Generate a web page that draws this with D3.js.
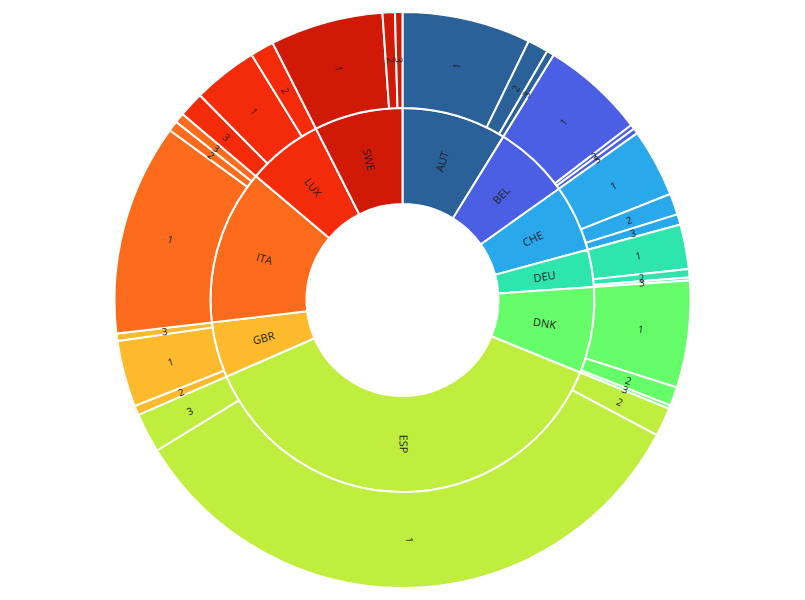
<!DOCTYPE html>
<html>
<head>
<meta charset="utf-8">
<script src="https://cdn.jsdelivr.net/npm/d3@7"></script>
<style>
html,body{margin:0;padding:0;background:#fff;}
svg{display:block;}
</style>
</head>
<body>
<svg id="chart" width="805" height="600"></svg>
<script>
// ---- data ----
const categories = ["AUT","BEL","CHE","DEU","DNK","ESP","GBR","ITA","LUX","SWE"];
const childLabels = [
  ["1","2","3"],
  ["1","2","3"],
  ["1","2","3"],
  ["1","2","3"],
  ["1","2","3"],
  ["2","1","3"],
  ["2","1","3"],
  ["1","2","3"],
  ["3","1","2"],
  ["1","2","3"]
];
const childValues = [
  [260,42,15],
  [209,9,11],
  [138,43,21],
  [90,17,6],
  [216,38,7],
  [58,1205,80],
  [19,134,15],
  [428,21,20],
  [51,131,48],
  [228,25,15]
];
const colors = ["#2A6199","#4A5FE3","#29A8EC","#2EE5AE","#66FD6A","#C0EE3E","#FDBA2D","#FC6B1B","#F42B0A","#D11907"];

// ---- build hierarchy ----
const tree = {
  name: "root",
  children: categories.map((c, i) => ({
    name: c,
    cat: i,
    children: childLabels[i].map((l, j) => ({name: l, cat: i, value: childValues[i][j]}))
  }))
};

const W = 805, H = 600;
const cx = 402.5, cy = 300;
const rScale = d3.scaleLinear().domain([0, 1, 2, 3]).range([0, 96, 192, 288]);
const colorScale = d3.scaleOrdinal().domain(d3.range(categories.length)).range(colors);

const root = d3.hierarchy(tree).sum(d => d.value || 0);
d3.partition().size([2 * Math.PI, 3])(root);

const arc = d3.arc()
  .startAngle(d => d.x0)
  .endAngle(d => d.x1)
  .innerRadius(d => rScale(d.depth))
  .outerRadius(d => rScale(d.depth + 1));

const svg = d3.select("#chart");
const g = svg.append("g").attr("transform", `translate(${cx},${cy})`);

const nodes = root.descendants().filter(d => d.depth > 0);

g.selectAll("path.sector")
  .data(nodes)
  .join("path")
  .attr("class", "sector")
  .attr("d", arc)
  .attr("fill", d => colorScale(d.data.cat))
  .attr("stroke", "#fff")
  .attr("stroke-width", 2);

g.selectAll("text.lbl")
  .data(nodes)
  .join("text")
  .attr("class", "lbl")
  .attr("transform", d => {
    const mid = (d.x0 + d.x1) / 2;
    const r = (rScale(d.depth) + rScale(d.depth + 1)) / 2;
    const x = r * Math.sin(mid), y = -r * Math.cos(mid);
    let rot = mid * 180 / Math.PI - 90;
    if (rot > 90) rot -= 180;
    return `translate(${x},${y}) rotate(${rot})`;
  })
  .attr("text-anchor", "middle")
  .attr("dominant-baseline", "central")
  .attr("font-family", "'Open Sans', sans-serif")
  .attr("font-size", d => d.depth === 1 ? 11 : 10)
  .attr("fill", "#222")
  .text(d => d.data.name);
</script>
</body>
</html>
